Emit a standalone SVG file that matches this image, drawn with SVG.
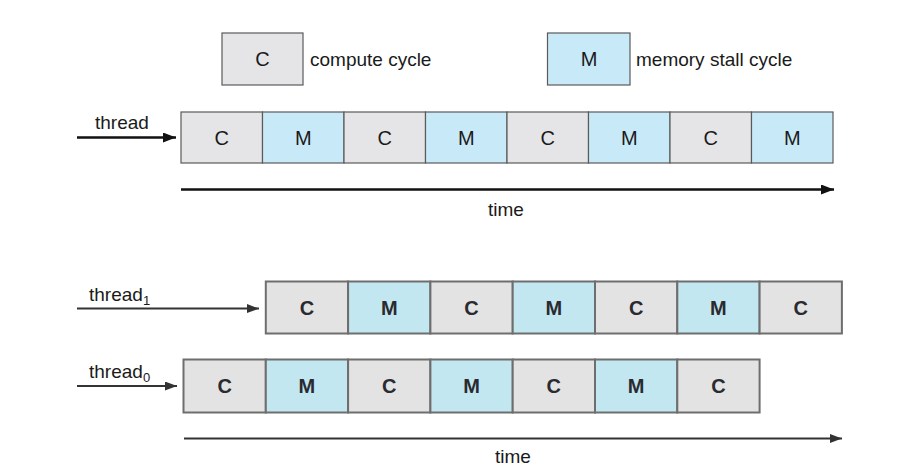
<svg xmlns="http://www.w3.org/2000/svg" width="914" height="472" viewBox="0 0 914 472">
<style>
text{font-family:"Liberation Sans",Arial,sans-serif;fill:#1a1a1a}
.lbl{font-size:19px}
.cell{font-size:20px;text-anchor:middle}
.cellb{font-size:20px;text-anchor:middle;font-weight:bold;fill:#2a2a30}
.c{fill:#e5e5e7;stroke:#5a5a5a;stroke-width:1.2}
.m{fill:#c8e9f7;stroke:#5a5a5a;stroke-width:1.2}
.c2{fill:#e3e3e3;stroke:#6e6e6e;stroke-width:2}
.m2{fill:#c2e7f0;stroke:#6e6e6e;stroke-width:2}
.arr{stroke:#111;stroke-width:2.4;fill:none;marker-end:url(#ah)}
.arr2{stroke:#333;stroke-width:2.2;fill:none;marker-end:url(#ah2)}
</style>
<defs>
<marker id="ah" markerUnits="userSpaceOnUse" markerWidth="13" markerHeight="10" refX="13" refY="5" orient="auto"><path d="M0,0 L13,5 L0,10 z" fill="#111"/></marker>
<marker id="ah2" markerUnits="userSpaceOnUse" markerWidth="12" markerHeight="9" refX="12" refY="4.5" orient="auto"><path d="M0,0 L12,4.5 L0,9 z" fill="#333"/></marker>
</defs>
<rect width="914" height="472" fill="#fff"/>

<g id="legend-compute">
<rect class="c" x="222" y="33" width="81" height="52"/>
<text class="cell" x="262.5" y="66">C</text>
<text class="lbl" x="310" y="66">compute cycle</text>
</g>
<g id="legend-memory">
<rect class="m" x="547.5" y="33" width="82.5" height="52"/>
<text class="cell" x="589" y="66">M</text>
<text class="lbl" x="636" y="66">memory stall cycle</text>
</g>

<g id="single-thread">
<text class="lbl" x="95" y="129">thread</text>
<g id="t-c1"><rect class="c" x="181" y="112" width="81.5" height="51"/><text class="cell" x="221.75" y="144.5">C</text></g>
<g id="t-m1"><rect class="m" x="262.5" y="112" width="81.5" height="51"/><text class="cell" x="303.25" y="144.5">M</text></g>
<g id="t-c2"><rect class="c" x="344" y="112" width="81.5" height="51"/><text class="cell" x="384.75" y="144.5">C</text></g>
<g id="t-m2"><rect class="m" x="425.5" y="112" width="81.5" height="51"/><text class="cell" x="466.25" y="144.5">M</text></g>
<g id="t-c3"><rect class="c" x="507" y="112" width="81.5" height="51"/><text class="cell" x="547.75" y="144.5">C</text></g>
<g id="t-m3"><rect class="m" x="588.5" y="112" width="81.5" height="51"/><text class="cell" x="629.25" y="144.5">M</text></g>
<g id="t-c4"><rect class="c" x="670" y="112" width="81.5" height="51"/><text class="cell" x="710.75" y="144.5">C</text></g>
<g id="t-m4"><rect class="m" x="751.5" y="112" width="81.5" height="51"/><text class="cell" x="792.25" y="144.5">M</text></g>
<text class="lbl" x="488" y="216">time</text>
</g>

<g id="thread1">
<text class="lbl" x="89" y="301">thread<tspan font-size="13" dy="4">1</tspan></text>
<g id="t1-c1"><rect class="c2" x="265.8" y="281.5" width="82.3" height="52"/><text class="cellb" x="306.95" y="315">C</text></g>
<g id="t1-m1"><rect class="m2" x="348.1" y="281.5" width="82.3" height="52"/><text class="cellb" x="389.25" y="315">M</text></g>
<g id="t1-c2"><rect class="c2" x="430.4" y="281.5" width="82.3" height="52"/><text class="cellb" x="471.55" y="315">C</text></g>
<g id="t1-m2"><rect class="m2" x="512.7" y="281.5" width="82.3" height="52"/><text class="cellb" x="553.85" y="315">M</text></g>
<g id="t1-c3"><rect class="c2" x="595" y="281.5" width="82.3" height="52"/><text class="cellb" x="636.15" y="315">C</text></g>
<g id="t1-m3"><rect class="m2" x="677.3" y="281.5" width="82.3" height="52"/><text class="cellb" x="718.45" y="315">M</text></g>
<g id="t1-c4"><rect class="c2" x="759.6" y="281.5" width="82.3" height="52"/><text class="cellb" x="800.75" y="315">C</text></g>
</g>

<g id="thread0">
<text class="lbl" x="89" y="378">thread<tspan font-size="13" dy="4">0</tspan></text>
<g id="t0-c1"><rect class="c2" x="183.5" y="359.5" width="82.3" height="53"/><text class="cellb" x="224.65" y="393">C</text></g>
<g id="t0-m1"><rect class="m2" x="265.8" y="359.5" width="82.3" height="53"/><text class="cellb" x="306.95" y="393">M</text></g>
<g id="t0-c2"><rect class="c2" x="348.1" y="359.5" width="82.3" height="53"/><text class="cellb" x="389.25" y="393">C</text></g>
<g id="t0-m2"><rect class="m2" x="430.4" y="359.5" width="82.3" height="53"/><text class="cellb" x="471.55" y="393">M</text></g>
<g id="t0-c3"><rect class="c2" x="512.7" y="359.5" width="82.3" height="53"/><text class="cellb" x="553.85" y="393">C</text></g>
<g id="t0-m3"><rect class="m2" x="595" y="359.5" width="82.3" height="53"/><text class="cellb" x="636.15" y="393">M</text></g>
<g id="t0-c4"><rect class="c2" x="677.3" y="359.5" width="82.3" height="53"/><text class="cellb" x="718.45" y="393">C</text></g>
<text class="lbl" x="495" y="463">time</text>
</g>

<g id="connectors">
<line class="arr" x1="77" y1="137.5" x2="176" y2="137.5"/>
<line class="arr" x1="181" y1="189.5" x2="834" y2="189.5"/>
<line class="arr2" x1="77" y1="308.5" x2="259" y2="308.5"/>
<line class="arr2" x1="77" y1="386" x2="177" y2="386"/>
<line class="arr2" x1="184" y1="438.5" x2="842" y2="438.5"/>
</g>
</svg>
